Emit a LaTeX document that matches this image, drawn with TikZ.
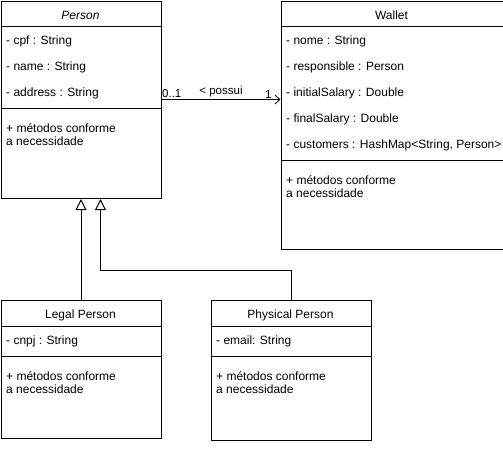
\documentclass[tikz,border=0pt]{standalone}
\usepackage{fontspec}
\setmainfont{Liberation Sans}
\usetikzlibrary{arrows.meta}
\begin{document}
\begin{tikzpicture}[x=1pt,y=-1pt,
  box/.style={draw, line width=1pt, anchor=north west, inner sep=0pt},
  txt/.style={anchor=west, inner sep=0pt, font=\fontsize{12}{14}\selectfont},
  head/.style={anchor=center, inner sep=0pt, font=\fontsize{12}{14}\selectfont},
  lbl/.style={inner sep=0pt, font=\fontsize{11.5}{13}\selectfont},
  sep/.style={line width=1pt},
  gen/.style={line width=1pt, -{Triangle[open, length=11pt, width=11pt, line width=1pt]}},
  assoc/.style={line width=1pt, -{Straight Barb[length=5pt, width=9pt, line width=0.8pt]}}]
\useasboundingbox (0,0) rectangle (503,449);
% Person
\node[box, minimum width=160pt, minimum height=197pt] (person) at (0.5,1) {};
\draw[sep] (0.5,26.5) -- (160.5,26.5);
\draw[sep] (0.5,108.5) -- (160.5,108.5);
\node[head] (ph) at (80.5,15) {\itshape Person};
\node[txt] (p1) at (6,41.5) {- cpf : String};
\node[txt] (p2) at (6,67) {- name : String};
\node[txt] (p3) at (6,93) {- address : String};
\node[txt] (p4) at (6,128) {+ métodos conforme};
\node[txt] (p5) at (6,141.5) {a necessidade};
% Wallet
\node[box, minimum width=222pt, minimum height=248pt] (wallet) at (280.5,1) {};
\draw[sep] (280.5,26.5) -- (502.5,26.5);
\draw[sep] (280.5,160.5) -- (502.5,160.5);
\node[head] (wh) at (391.5,15) {Wallet};
\node[txt] (w1) at (286,41.5) {- nome : String};
\node[txt] (w2) at (286,67.5) {- responsible : Person};
\node[txt] (w3) at (286,93) {- initialSalary : Double};
\node[txt] (w4) at (286,119) {- finalSalary : Double};
\node[txt] (w5) at (286,145.5) {- customers : HashMap<String, Person>};
\node[txt] (w6) at (286,180) {+ métodos conforme};
\node[txt] (w7) at (286,193.5) {a necessidade};
% Legal Person
\node[box, minimum width=160pt, minimum height=138pt] (legal) at (0.5,300) {};
\draw[sep] (0.5,326.5) -- (160.5,326.5);
\draw[sep] (0.5,356.5) -- (160.5,356.5);
\node[head] (lh) at (80.5,315) {Legal Person};
\node[txt] (l1) at (6,341.5) {- cnpj : String};
\node[txt] (l2) at (6,376) {+ métodos conforme};
\node[txt] (l3) at (6,389.5) {a necessidade};
% Physical Person
\node[box, minimum width=160pt, minimum height=140pt] (phys) at (210.5,300) {};
\draw[sep] (210.5,326.5) -- (370.5,326.5);
\draw[sep] (210.5,356.5) -- (370.5,356.5);
\node[head] (fh) at (290.5,315) {Physical Person};
\node[txt] (f1) at (216,341.5) {- email: String};
\node[txt] (f2) at (216,376) {+ métodos conforme};
\node[txt] (f3) at (216,389.5) {a necessidade};
% association
\coordinate (a1) at (160.5,99.5);
\coordinate (a2) at (280.5,99.5);
\draw[assoc] (a1) -- (a2);
\node[lbl, anchor=base west] (m1) at (162,98) {0..1};
\node[lbl, anchor=base] (m2) at (221,94.5) {< possui};
\node[lbl, anchor=base west] (m3) at (265,98.5) {1};
% generalizations
\draw[gen] (legal.north) -- (legal.north |- person.south);
\coordinate (bend) at (100.5,270);
\draw[gen] (phys.north) |- (bend) -- (bend |- person.south);
\end{tikzpicture}
\end{document}
